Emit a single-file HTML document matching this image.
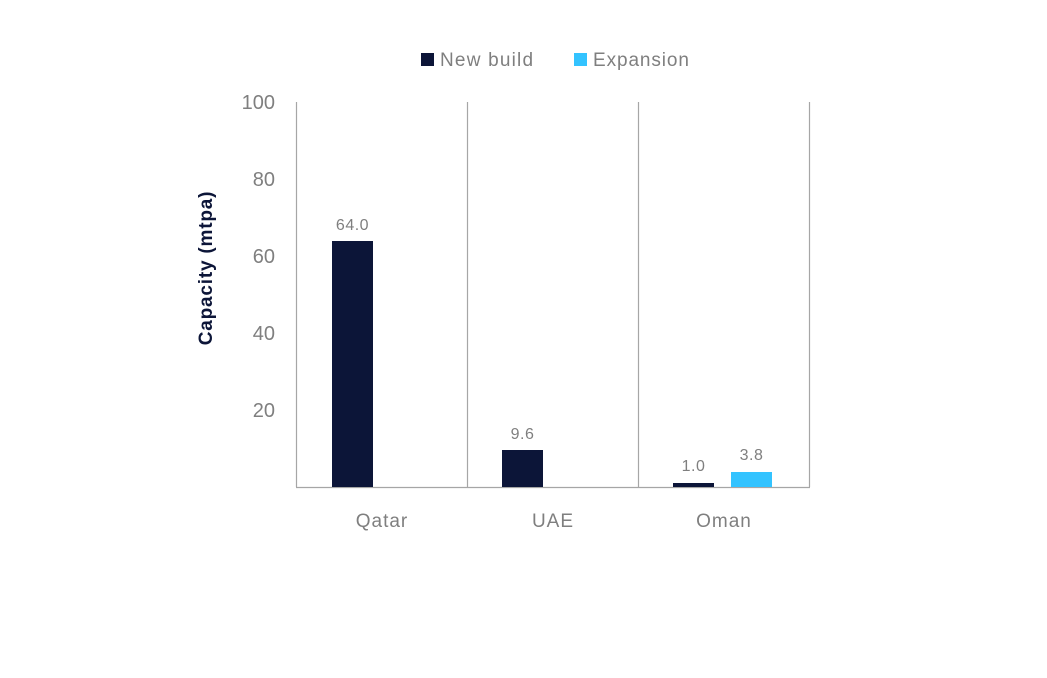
<!DOCTYPE html>
<html><head><meta charset="utf-8"><style>
html,body{margin:0;padding:0;background:#fff;}
svg{display:block;font-family:"Liberation Sans",sans-serif;}
</style></head><body>
<svg width="1047" height="678" viewBox="0 0 1047 678">
<rect width="1047" height="678" fill="#fff"/>
<!-- legend -->
<rect x="421" y="53" width="13" height="13" fill="#0c1538"/>
<text x="440" y="66" font-size="19" fill="#7f7f7f" letter-spacing="1.2">New build</text>
<rect x="574" y="53" width="13" height="13" fill="#33c3ff"/>
<text x="593" y="66" font-size="19" fill="#7f7f7f" letter-spacing="0.9">Expansion</text>
<!-- axes -->
<g stroke="#a6a6a6" stroke-width="1.2">
<line x1="296.5" y1="102" x2="296.5" y2="487"/>
<line x1="467.5" y1="102" x2="467.5" y2="487"/>
<line x1="638.5" y1="102" x2="638.5" y2="487"/>
<line x1="809.5" y1="102" x2="809.5" y2="487"/>
<line x1="296" y1="487.5" x2="810" y2="487.5"/>
</g>
<g font-size="20" fill="#7f7f7f" text-anchor="end">
<text x="275" y="109">100</text>
<text x="275" y="186">80</text>
<text x="275" y="263">60</text>
<text x="275" y="340">40</text>
<text x="275" y="417">20</text>
</g>
<text transform="translate(212,268) rotate(-90)" font-size="19" font-weight="bold" fill="#0c1538" text-anchor="middle" letter-spacing="0.8">Capacity (mtpa)</text>
<!-- bars -->
<rect x="332" y="241" width="41" height="246" fill="#0c1538"/>
<rect x="502" y="450" width="41" height="37" fill="#0c1538"/>
<rect x="673" y="483" width="41" height="4" fill="#0c1538"/>
<rect x="731" y="472" width="41" height="15" fill="#33c3ff"/>
<g font-size="16" fill="#7f7f7f" text-anchor="middle" letter-spacing="0.5">
<text x="352.5" y="230">64.0</text>
<text x="522.5" y="439">9.6</text>
<text x="693.5" y="471">1.0</text>
<text x="751.5" y="460">3.8</text>
</g>
<g font-size="19" fill="#7f7f7f" text-anchor="middle" letter-spacing="1">
<text x="382" y="527">Qatar</text>
<text x="553" y="527">UAE</text>
<text x="724" y="527">Oman</text>
</g>
</svg>
</body></html>
